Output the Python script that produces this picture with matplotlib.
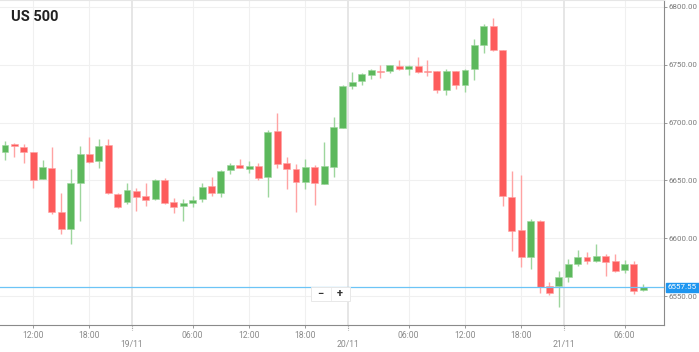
import matplotlib
matplotlib.use("Agg")
import matplotlib.pyplot as plt
import matplotlib.transforms as mtransforms
from matplotlib.patches import Rectangle
import pandas as pd

plt.rcParams['font.family'] = ['Roboto', 'DejaVu Sans']

# hourly candles 18/11 09:00 -> 21/11 08:00, the 23:00 hour is the daily break
times = [t for t in pd.date_range('2025-11-18 09:00', '2025-11-21 08:00', freq='h') if t.hour != 23]

opens = [6674.3, 6681.5, 6678.6, 6674.3, 6651.0, 6660.7, 6622.4, 6607.7, 6647.5, 6672.8,
         6666.8, 6680.6, 6638.5, 6631.3, 6641.1, 6636.5, 6633.7, 6650.4, 6631.3, 6627.9,
         6630.7, 6633.9, 6644.9, 6639.1, 6658.7, 6663.3, 6660.1, 6662.5, 6652.7, 6692.7,
         6664.8, 6659.6, 6648.4, 6661.3, 6647.2, 6661.3, 6695.6, 6731.7, 6736.0, 6741.4,
         6744.6, 6744.6, 6749.0, 6746.6, 6749.0, 6744.4, 6744.4, 6728.2, 6744.4, 6732.5,
         6746.1, 6767.4, 6783.8, 6762.8, 6636.0, 6606.8, 6584.0, 6614.9, 6558.7, 6558.4,
         6566.2, 6577.7, 6583.5, 6580.5, 6584.6, 6580.0, 6572.2, 6577.4, 6555.0]
highs = [6684.3, 6682.6, 6681.5, 6674.6, 6667.7, 6678.9, 6638.9, 6659.6, 6680.0, 6687.3,
         6685.6, 6685.6, 6639.0, 6647.8, 6643.7, 6647.8, 6651.5, 6652.3, 6635.0, 6633.7,
         6636.5, 6648.0, 6652.7, 6659.0, 6664.8, 6668.5, 6666.8, 6664.8, 6693.3, 6708.6,
         6670.5, 6664.5, 6668.5, 6663.0, 6683.5, 6704.6, 6732.5, 6743.8, 6743.0, 6746.0,
         6749.8, 6750.2, 6753.9, 6749.5, 6756.5, 6754.2, 6745.0, 6746.4, 6745.0, 6746.5,
         6772.1, 6785.3, 6790.7, 6763.0, 6658.1, 6654.4, 6616.4, 6615.5, 6562.6, 6571.9,
         6581.8, 6589.5, 6588.1, 6594.7, 6586.3, 6586.0, 6581.2, 6580.3, 6560.4]
lows = [6667.7, 6670.5, 6665.3, 6643.2, 6651.0, 6621.0, 6603.9, 6595.0, 6614.9, 6664.8,
        6660.5, 6638.2, 6626.0, 6630.0, 6623.3, 6628.1, 6633.0, 6630.0, 6622.1, 6614.6,
        6627.3, 6631.0, 6636.8, 6635.4, 6655.5, 6660.5, 6656.7, 6650.1, 6635.9, 6661.0,
        6642.8, 6622.7, 6642.8, 6628.7, 6647.0, 6652.7, 6695.0, 6728.8, 6732.8, 6737.5,
        6738.8, 6742.9, 6745.5, 6740.9, 6743.0, 6740.3, 6725.6, 6724.1, 6728.8, 6726.5,
        6736.9, 6760.0, 6762.0, 6627.9, 6589.2, 6575.4, 6573.1, 6552.9, 6551.1, 6540.8,
        6562.4, 6576.0, 6577.7, 6579.7, 6567.3, 6570.5, 6569.7, 6551.7, 6554.5]
closes = [6680.4, 6679.8, 6674.6, 6650.1, 6661.6, 6622.4, 6607.7, 6647.5, 6672.6, 6666.2,
          6679.8, 6638.9, 6626.7, 6642.0, 6635.6, 6633.0, 6650.6, 6630.7, 6627.3, 6630.2,
          6633.3, 6644.3, 6639.4, 6658.4, 6663.6, 6661.0, 6662.5, 6651.8, 6692.1, 6664.2,
          6660.1, 6648.4, 6661.3, 6647.5, 6662.2, 6696.2, 6731.7, 6735.4, 6742.3, 6745.2,
          6743.8, 6749.6, 6746.4, 6749.0, 6743.8, 6743.5, 6728.2, 6744.4, 6732.8, 6745.9,
          6767.1, 6783.8, 6762.5, 6636.5, 6606.2, 6584.0, 6614.9, 6558.2, 6552.8, 6566.2,
          6578.0, 6583.5, 6580.5, 6584.6, 6579.4, 6571.6, 6577.4, 6554.6, 6557.55]

last_price = 6557.55
y_ticks = [6550, 6600, 6650, 6700, 6750, 6800]
time_ticks = ['2025-11-18 12:00', '2025-11-18 18:00', '2025-11-19 06:00', '2025-11-19 12:00',
              '2025-11-19 18:00', '2025-11-20 06:00', '2025-11-20 12:00', '2025-11-20 18:00',
              '2025-11-21 06:00']
day_ticks = ['2025-11-19', '2025-11-20', '2025-11-21']

GREEN = '#5cb85c'
RED = '#fd5c5c'
GREEN_WICK = '#9dd69d'
RED_WICK = '#ffa3a3'

idx = {t: i for i, t in enumerate(times)}
xs = list(range(len(times)))

fig = plt.figure(figsize=(6.99, 3.52), dpi=100)
ax = fig.add_axes([0, 27 / 352, 664 / 699, 325 / 352])

# grid
for v in y_ticks:
    ax.axhline(v, color='#f0f0f0', lw=0.8, zorder=0)
tick_x = [idx[pd.Timestamp(t)] for t in time_ticks]
for x in tick_x:
    ax.axvline(x, color='#f0f0f0', lw=0.8, zorder=0)
day_x = [idx[pd.Timestamp(d)] - 0.5 for d in day_ticks]
for x in day_x:
    ax.axvline(x, color='#e4e4e4', lw=1.3, zorder=0)

# candles
for x, o, h, l, c in zip(xs, opens, highs, lows, closes):
    up = c >= o
    ax.vlines(x, l, h, color=GREEN_WICK if up else RED_WICK, lw=1.0, zorder=2)
    bottom = min(o, c)
    height = max(abs(c - o), 0.9)
    ax.bar(x, height, bottom=bottom, width=0.74, color=GREEN if up else RED,
           edgecolor=GREEN_WICK if up else RED_WICK, linewidth=0.4, zorder=3)

# last price line
ax.axhline(last_price, color='#6cc4f6', lw=0.9, zorder=4)
ax.text(1.006, last_price, '%.2f' % last_price, transform=ax.get_yaxis_transform(),
        ha='left', va='center', fontsize=5.8, color='white', zorder=6,
        bbox=dict(boxstyle='square,pad=0.22', fc='#1e96f0', ec='#1e96f0'))

ax.set_xlim(-0.53, 70.2)
ax.set_ylim(6525, 6806)

ax.spines['left'].set_visible(False)
ax.spines['top'].set_color('#e6e6e6')
ax.spines['right'].set_color('#8a8a8a')
ax.spines['bottom'].set_color('#8a8a8a')

ax.yaxis.tick_right()
ax.set_yticks(y_ticks)
ax.set_yticklabels(['%.2f' % v for v in y_ticks])
ax.tick_params(axis='y', length=2.2, width=0.6, color='#8a8a8a', labelsize=5.7,
               labelcolor='#7a7a7a', pad=1.2)

ax.set_xticks(tick_x)
ax.set_xticklabels([pd.Timestamp(t).strftime('%H:%M') for t in time_ticks])
ax.tick_params(axis='x', length=2.2, width=0.6, color='#8a8a8a', labelsize=6.2,
               labelcolor='#8a8a8a', pad=2)

trans = mtransforms.blended_transform_factory(ax.transData, ax.transAxes)
for x, d in zip(day_x, day_ticks):
    ax.plot([x, x], [0, -0.016], color='#9a9a9a', lw=0.8, ls=(0, (1, 1)),
            transform=trans, clip_on=False)
    ax.text(x, -0.061, pd.Timestamp(d).strftime('%d/%m'), transform=trans,
            ha='center', va='center', fontsize=6.2, color='#8a8a8a')

# zoom buttons
ax.add_patch(Rectangle((0.468, 0.073), 0.059, 0.043, transform=ax.transAxes,
                       fc='white', ec='#e8e8e8', lw=0.7, zorder=7))
ax.plot([0.498, 0.498], [0.076, 0.113], transform=ax.transAxes, color='#eeeeee',
        lw=0.7, zorder=8)
ax.text(0.483, 0.095, '\u2212', transform=ax.transAxes, ha='center', va='center',
        fontsize=8, color='#333333', fontweight='bold', zorder=9)
ax.text(0.512, 0.095, '+', transform=ax.transAxes, ha='center', va='center',
        fontsize=8, color='#333333', fontweight='bold', zorder=9)

ax.text(0.017, 0.947, 'US 500', transform=ax.transAxes, ha='left', va='center',
        fontsize=10.5, fontweight='bold', color='#222222')

fig.savefig('out.png', dpi=100)
